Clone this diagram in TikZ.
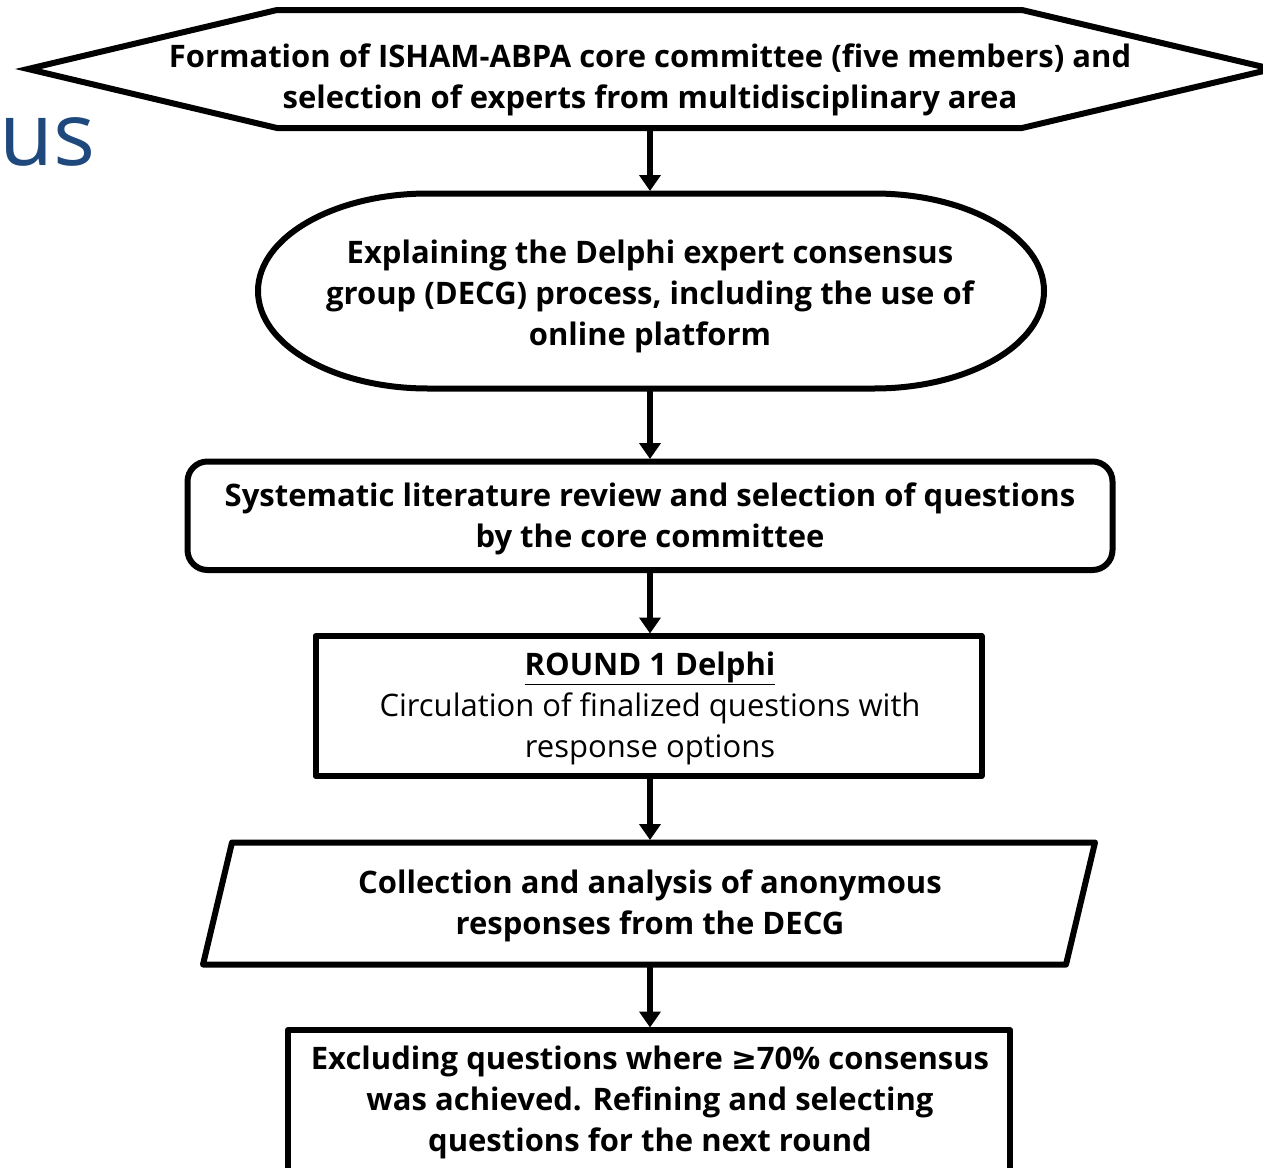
\documentclass[tikz,border=0pt]{standalone}
\usepackage{fontspec}
\setmainfont{Open Sans}[Ligatures=NoCommon]
\newfontfamily\symfont{DejaVu Sans}
\usetikzlibrary{arrows.meta}
\definecolor{usblue}{RGB}{31,73,125}
\begin{document}
\begin{tikzpicture}[x=1pt,y=-1pt,
  shp/.style={line width=6pt, line join=round},
  txt/.style={font=\fontsize{31}{41}\selectfont\bfseries, align=center, inner sep=0pt, anchor=base},
  arr/.style={line width=6pt, -{Triangle[width=21pt,length=16pt]}},
]
\useasboundingbox (0,0) rectangle (1263,1167);
% partial word at left
\node[font=\fontsize{88}{100}\selectfont, text=usblue, inner sep=0pt, anchor=base west] (us) at (-1,165) {us};
% hexagon
\draw[line width=6pt, line join=miter] (28,69) -- (277,10) -- (1022,10) -- (1272,69) -- (1022,128) -- (277,128) -- cycle;
\coordinate (hexB) at (650,128);
\node[txt] (t1) at (650,108) {Formation of ISHAM-ABPA core committee (five members) and\\selection of experts from multidisciplinary area};
% stadium
\draw[shp] (428,193.5) -- (874,193.5) arc[start angle=-90, end angle=90, x radius=170, y radius=97.5] -- (428,388.5) arc[start angle=90, end angle=270, x radius=170, y radius=97.5] -- cycle;
\coordinate (stT) at (650,191);
\coordinate (stB) at (650,388.5);
\node[txt] (t2) at (650,345) {Explaining the Delphi expert consensus\\group (DECG) process, including the use of\\online platform};
% rounded rectangle
\draw[shp, rounded corners=20pt] (187.5,461.5) rectangle (1112.5,570);
\coordinate (rrT) at (650,459);
\coordinate (rrB) at (650,570);
\node[txt] (t3) at (650,547) {Systematic literature review and selection of questions\\by the core committee};
% round 1 box
\draw[shp] (315.5,636) rectangle (981.5,776);
\coordinate (r1T) at (650,633.5);
\coordinate (r1B) at (650,776);
\node[txt] (t4) at (650,757) {\underline{ROUND 1 Delphi}\\\mdseries Circulation of finalized questions with\\\mdseries response options};
% parallelogram
\draw[shp] (232,842.5) -- (1095,842.5) -- (1066,964.5) -- (203,964.5) -- cycle;
\coordinate (paT) at (650,840);
\coordinate (paB) at (650,964.5);
\node[txt] (t5) at (650,934) {Collection and analysis of anonymous\\responses from the DECG};
% bottom box
\draw[shp] (288,1190) -- (288,1030) -- (1010,1030) -- (1010,1190);
\coordinate (bxT) at (650,1027.5);
\node[txt] (t6) at (650,1151) {Excluding questions where {\symfont ≥}70\% consensus\\was achieved. Refining and selecting\\questions for the next round};
% arrows
\draw[arr] (hexB) -- (stT);
\draw[arr] (stB) -- (rrT);
\draw[arr] (rrB) -- (r1T);
\draw[arr] (r1B) -- (paT);
\draw[arr] (paB) -- (bxT);
\end{tikzpicture}
\end{document}
